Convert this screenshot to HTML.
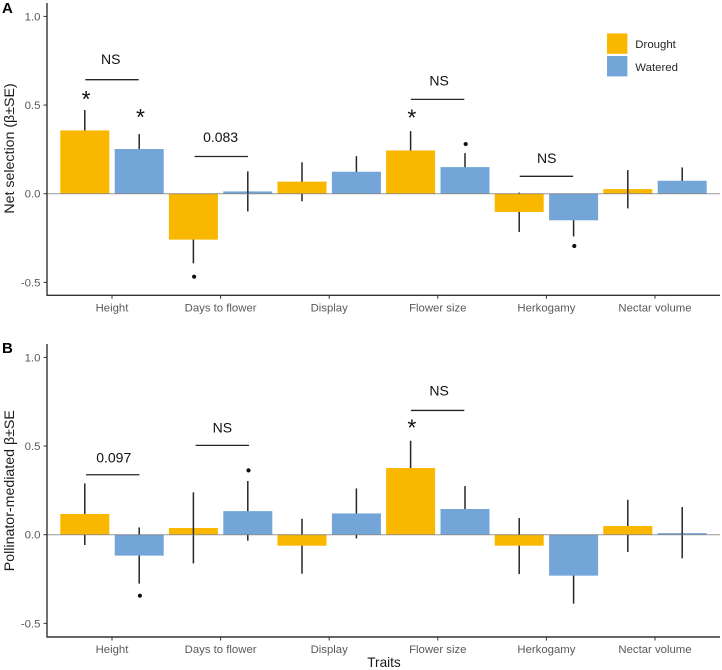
<!DOCTYPE html>
<html>
<head>
<meta charset="utf-8">
<title>Net and pollinator-mediated selection</title>
<style>
html,body{margin:0;padding:0;background:#fff;}
svg{display:block;font-family:"Liberation Sans",sans-serif;}
</style>
</head>
<body>
<svg id="chart" width="722" height="670" viewBox="0 0 722 670" xmlns="http://www.w3.org/2000/svg"></svg>
<script>
const categories = ["Height", "Days to flower", "Display", "Flower size", "Herkogamy", "Nectar volume"];
const seriesNames = ["Drought", "Watered"];
const yTicks = [-0.5, 0, 0.5, 1];
const yTickLabels = ["-0.5", "0.0", "0.5", "1.0"];

const netDroughtMean = [0.357, -0.259, 0.068, 0.244, -0.103, 0.026];
const netDroughtLow = [0.242, -0.393, -0.043, 0.135, -0.216, -0.083];
const netDroughtHigh = [0.472, -0.125, 0.177, 0.353, 0.006, 0.133];
const netWateredMean = [0.252, 0.013, 0.124, 0.150, -0.150, 0.073];
const netWateredLow = [0.168, -0.100, 0.036, 0.071, -0.241, -0.002];
const netWateredHigh = [0.336, 0.126, 0.212, 0.229, -0.060, 0.148];
const netDroughtErrorOnTop = [false, false, false, false, false, true];
const netWateredErrorOnTop = [false, true, false, false, false, false];

const pollDroughtMean = [0.117, 0.038, -0.062, 0.376, -0.062, 0.049];
const pollDroughtLow = [-0.058, -0.162, -0.220, 0.222, -0.222, -0.098];
const pollDroughtHigh = [0.289, 0.239, 0.090, 0.530, 0.094, 0.197];
const pollWateredMean = [-0.118, 0.133, 0.120, 0.145, -0.231, 0.009];
const pollWateredLow = [-0.276, -0.034, -0.021, 0.016, -0.389, -0.133];
const pollWateredHigh = [0.041, 0.303, 0.261, 0.274, -0.073, 0.156];
const pollDroughtErrorOnTop = [false, true, false, false, false, false];
const pollWateredErrorOnTop = [false, false, false, false, false, true];

const netBracketCategory = [0, 1.006, 2.998, 4];
const netBracketValue = [0.643, 0.210, 0.532, 0.098];
const netBracketLabel = ["NS", "0.083", "NS", "NS"];
const netBracketLabelCategory = [-0.012, 1, 3.012, 4.003];
const netBracketLabelValue = [0.7315, 0.293, 0.609, 0.173];
const pollBracketCategory = [0.007, 1.016, 2.998];
const pollBracketValue = [0.338, 0.504, 0.701];
const pollBracketLabel = ["0.097", "NS", "NS"];
const pollBracketLabelCategory = [0.016, 1.016, 3.012];
const pollBracketLabelValue = [0.408, 0.577, 0.784];

const netStarCategory = [0, 0, 3];
const netStarSeries = [0, 1, 0];
const netStarValue = [0.547, 0.447, 0.443];
const netDotCategory = [1, 3, 4];
const netDotSeries = [0, 1, 1];
const netDotValue = [-0.468, 0.280, -0.295];
const pollStarCategory = [3];
const pollStarSeries = [0];
const pollStarValue = [0.618];
const pollDotCategory = [0, 1];
const pollDotSeries = [1, 1];
const pollDotValue = [-0.344, 0.363];

const SVGNS = "http://www.w3.org/2000/svg";
const svg = document.getElementById("chart");
const COLORS = ["#fab700", "#74a5d8"];
const AXIS_LEFT = 47, AXIS_RIGHT = 720, UNIT = 177.3;

function xPos(i) { return 112 + i * 108.6; }
function seriesX(i, s) { return xPos(i) + (s === 0 ? -27.2 : 27.2); }

function addLine(x1, y1, x2, y2, color, width, name) {
  const el = document.createElementNS(SVGNS, "line");
  el.setAttribute("x1", x1);
  el.setAttribute("y1", y1);
  el.setAttribute("x2", x2);
  el.setAttribute("y2", y2);
  el.setAttribute("stroke", color);
  el.setAttribute("stroke-width", width);
  
  
  svg.appendChild(el);
  return el;
}
function addText(x, y, str, size, color, anchor, name, extra) {
  const el = document.createElementNS(SVGNS, "text");
  el.setAttribute("x", x);
  el.setAttribute("y", y);
  el.setAttribute("font-size", size);
  el.setAttribute("fill", color);
  el.setAttribute("text-anchor", anchor);
  if (extra && extra.weight) el.setAttribute("font-weight", extra.weight);
  if (extra && extra.rotate) el.setAttribute("transform", "rotate(-90 " + x + " " + y + ")");
  
  
  el.textContent = str;
  svg.appendChild(el);
  return el;
}
function addRect(x, y, w, h, color, name) {
  const el = document.createElementNS(SVGNS, "rect");
  el.setAttribute("x", x);
  el.setAttribute("y", y);
  el.setAttribute("width", w);
  el.setAttribute("height", h);
  el.setAttribute("fill", color);
  
  
  svg.appendChild(el);
  return el;
}

function drawPanel(p) {
  const yPos = v => p.zeroY - v * UNIT;
  const seriesData = [
    { mean: p.dMean, low: p.dLow, high: p.dHigh, top: p.dTop },
    { mean: p.wMean, low: p.wLow, high: p.wHigh, top: p.wTop }
  ];
  // error bars that sit behind the bars
  seriesData.forEach((d, s) => {
    categories.forEach((c, i) => {
      if (!d.top[i]) addLine(seriesX(i, s), yPos(d.high[i]), seriesX(i, s), yPos(d.low[i]), "#262626", 1.5, p.id + "-error-" + seriesNames[s].toLowerCase() + "-" + i);
    });
  });
  // bars
  seriesData.forEach((d, s) => {
    categories.forEach((c, i) => {
      const y0 = yPos(0), y1 = yPos(d.mean[i]);
      addRect(seriesX(i, s) - 24.5, Math.min(y0, y1), 49, Math.abs(y1 - y0), COLORS[s], p.id + "-bar-" + seriesNames[s].toLowerCase() + "-" + i);
    });
  });
  // error bars that sit over the bars
  seriesData.forEach((d, s) => {
    categories.forEach((c, i) => {
      if (d.top[i]) addLine(seriesX(i, s), yPos(d.high[i]), seriesX(i, s), yPos(d.low[i]), "#262626", 1.5, p.id + "-error-top-" + seriesNames[s].toLowerCase() + "-" + i);
    });
  });
  // zero reference line
  addLine(AXIS_LEFT, yPos(0), AXIS_RIGHT, yPos(0), "#777", 1, p.id + "-zero-line").setAttribute("stroke-opacity", "0.75");
  // axes
  addLine(AXIS_LEFT, p.top, AXIS_LEFT, p.bottom + 0.6, "#333", 1.4, p.id + "-y-axis");
  addLine(AXIS_LEFT, p.bottom, AXIS_RIGHT, p.bottom, "#333", 1.4, p.id + "-x-axis");
  yTicks.forEach((t, i) => {
    addLine(AXIS_LEFT - 3.5, yPos(t), AXIS_LEFT, yPos(t), "#333", 1, p.id + "-y-tick");
    addText(40.5, yPos(t) + 4, yTickLabels[i], 11.4, "#595959", "end", p.id + "-y-tick-label");
  });
  categories.forEach((c, i) => {
    addLine(xPos(i), p.bottom, xPos(i), p.bottom + 3.5, "#333", 1, p.id + "-x-tick");
    addText(xPos(i), p.bottom + 16, c, 11.35, "#595959", "middle", p.id + "-x-tick-label");
  });
  // comparison brackets
  p.bCat.forEach((c, i) => {
    const y = yPos(p.bVal[i]);
    addLine(xPos(c) - 26.7, y, xPos(c) + 26.7, y, "#262626", 1.3, p.id + "-bracket");
    addText(xPos(p.bLabCat[i]), yPos(p.bLabVal[i]), p.bLab[i], 14, "#111", "middle", p.id + "-bracket-label");
  });
  // significance stars
  p.sCat.forEach((c, i) => {
    addText(seriesX(c, p.sSer[i]) + 1.3, yPos(p.sVal[i]) + 10.5, "*", 23, "#111", "middle", p.id + "-significance-star");
  });
  // marginal significance dots
  p.dotCat.forEach((c, i) => {
    const el = document.createElementNS(SVGNS, "circle");
    el.setAttribute("cx", seriesX(c, p.dotSer[i]) + 0.7);
    el.setAttribute("cy", yPos(p.dotVal[i]));
    el.setAttribute("r", 2.1);
    el.setAttribute("fill", "#111");
    
    
    svg.appendChild(el);
  });
  addText(14, p.titleY, p.title, 14.2, "#1a1a1a", "middle", p.id + "-y-axis-title", { rotate: true });
  addText(2, p.letterY, p.letter, 15, "#000", "start", p.id + "-panel-letter", { weight: "bold" });
}

drawPanel({
  id: "net", letter: "A", letterY: 13, title: "Net selection (β±SE)", titleY: 148.5,
  zeroY: 193.7, top: 3, bottom: 295.3,
  dMean: netDroughtMean, dLow: netDroughtLow, dHigh: netDroughtHigh, dTop: netDroughtErrorOnTop,
  wMean: netWateredMean, wLow: netWateredLow, wHigh: netWateredHigh, wTop: netWateredErrorOnTop,
  bCat: netBracketCategory, bVal: netBracketValue, bLab: netBracketLabel,
  bLabCat: netBracketLabelCategory, bLabVal: netBracketLabelValue,
  sCat: netStarCategory, sSer: netStarSeries, sVal: netStarValue,
  dotCat: netDotCategory, dotSer: netDotSeries, dotVal: netDotValue
});
drawPanel({
  id: "pollinator", letter: "B", letterY: 353, title: "Pollinator-mediated β±SE", titleY: 490.7,
  zeroY: 534.7, top: 344, bottom: 637,
  dMean: pollDroughtMean, dLow: pollDroughtLow, dHigh: pollDroughtHigh, dTop: pollDroughtErrorOnTop,
  wMean: pollWateredMean, wLow: pollWateredLow, wHigh: pollWateredHigh, wTop: pollWateredErrorOnTop,
  bCat: pollBracketCategory, bVal: pollBracketValue, bLab: pollBracketLabel,
  bLabCat: pollBracketLabelCategory, bLabVal: pollBracketLabelValue,
  sCat: pollStarCategory, sSer: pollStarSeries, sVal: pollStarValue,
  dotCat: pollDotCategory, dotSer: pollDotSeries, dotVal: pollDotValue
});

addText(384, 667, "Traits", 13.6, "#1a1a1a", "middle", "x-axis-title");

seriesNames.forEach((n, s) => {
  addRect(607, 33.4 + s * 22.6, 20.4, 20.4, COLORS[s], "legend-swatch-" + n.toLowerCase());
  addText(635.3, 48.2 + s * 22.6, n, 11.4, "#262626", "start", "legend-label-" + n.toLowerCase());
});
</script>
</body>
</html>
